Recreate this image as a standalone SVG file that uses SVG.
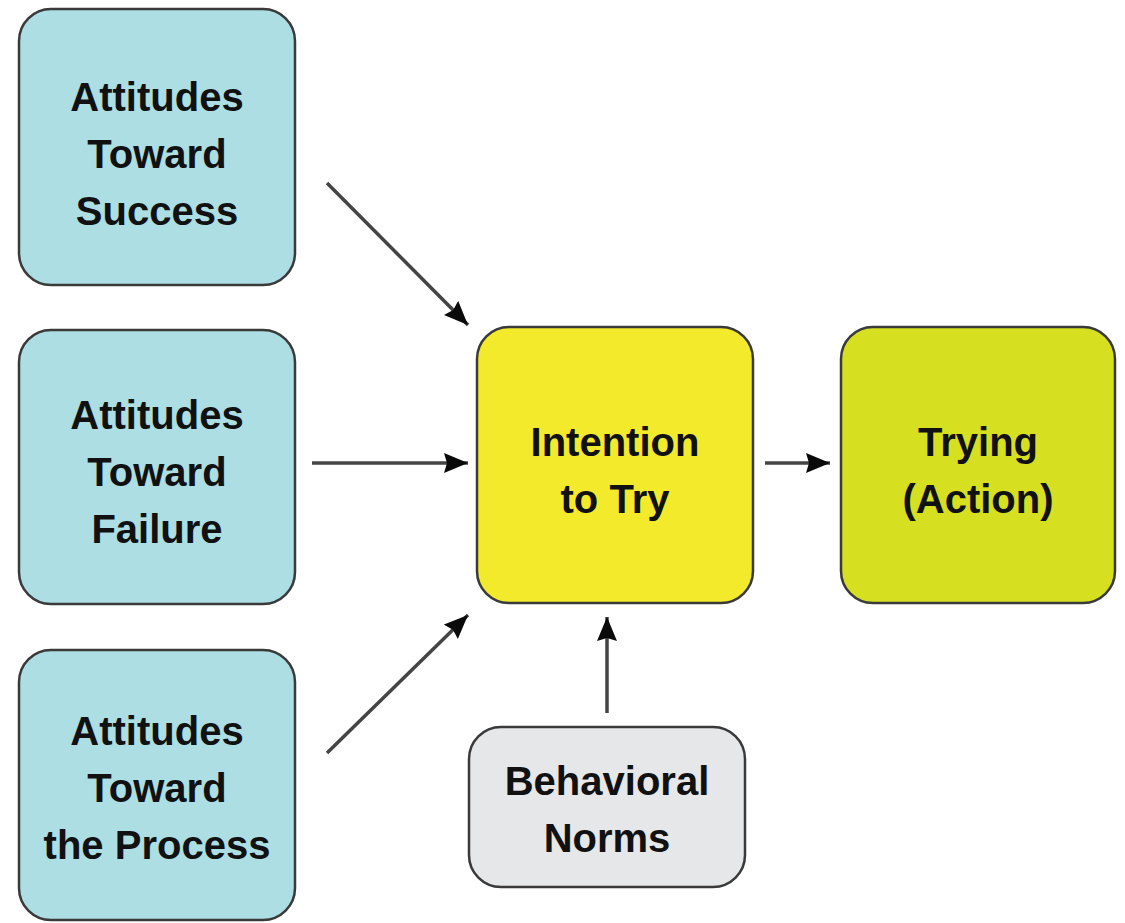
<svg xmlns="http://www.w3.org/2000/svg" width="1125" height="923" viewBox="0 0 1125 923">
<defs>
<marker id="ah" viewBox="0 0 24 20" refX="24" refY="10" markerWidth="24" markerHeight="20" markerUnits="userSpaceOnUse" orient="auto">
<path d="M0,0 L24,10 L0,20 L3,10 z" fill="#0a0a0a"/>
</marker>
<style>
.box{stroke:#3a3a3a;stroke-width:2.5}
.blue{fill:#acdee3}
.yel{fill:#f3ea2c}
.grn{fill:#d6e021}
.gry{fill:#e6e7e8}
.t{font-family:"Liberation Sans Narrow","Liberation Sans",Arial,sans-serif;font-weight:bold;font-size:40px;fill:#111;text-anchor:middle}
.c{stroke:#444;stroke-width:3.5;fill:none;marker-end:url(#ah)}
</style>
</defs>
<rect width="1125" height="923" fill="#fff"/>
<g id="n1"><rect class="box blue" x="19" y="9" width="276" height="276" rx="32"/>
<text class="t" x="157" y="111">Attitudes</text><text class="t" x="157" y="168">Toward</text><text class="t" x="157" y="225">Success</text></g>
<g id="n2"><rect class="box blue" x="19" y="330" width="276" height="274" rx="32"/>
<text class="t" x="157" y="429">Attitudes</text><text class="t" x="157" y="486">Toward</text><text class="t" x="157" y="543">Failure</text></g>
<g id="n3"><rect class="box blue" x="19" y="650" width="276" height="270" rx="32"/>
<text class="t" x="157" y="745">Attitudes</text><text class="t" x="157" y="802">Toward</text><text class="t" x="157" y="859">the Process</text></g>
<g id="n4"><rect class="box yel" x="477" y="327" width="276" height="276" rx="32"/>
<text class="t" x="615" y="456">Intention</text><text class="t" x="615" y="513">to Try</text></g>
<g id="n5"><rect class="box grn" x="841" y="327" width="274" height="276" rx="32"/>
<text class="t" x="978" y="456">Trying</text><text class="t" x="978" y="513">(Action)</text></g>
<g id="n6"><rect class="box gry" x="469" y="727" width="276" height="160" rx="32"/>
<text class="t" x="607" y="795">Behavioral</text><text class="t" x="607" y="852">Norms</text></g>
<g id="connectors">
<line class="c" x1="327" y1="183" x2="468" y2="325"/>
<line class="c" x1="312" y1="463" x2="468" y2="463"/>
<line class="c" x1="327" y1="753" x2="468" y2="615"/>
<line class="c" x1="765" y1="463" x2="830" y2="463"/>
<line class="c" x1="607" y1="713" x2="607" y2="617"/>
</g>
</svg>
